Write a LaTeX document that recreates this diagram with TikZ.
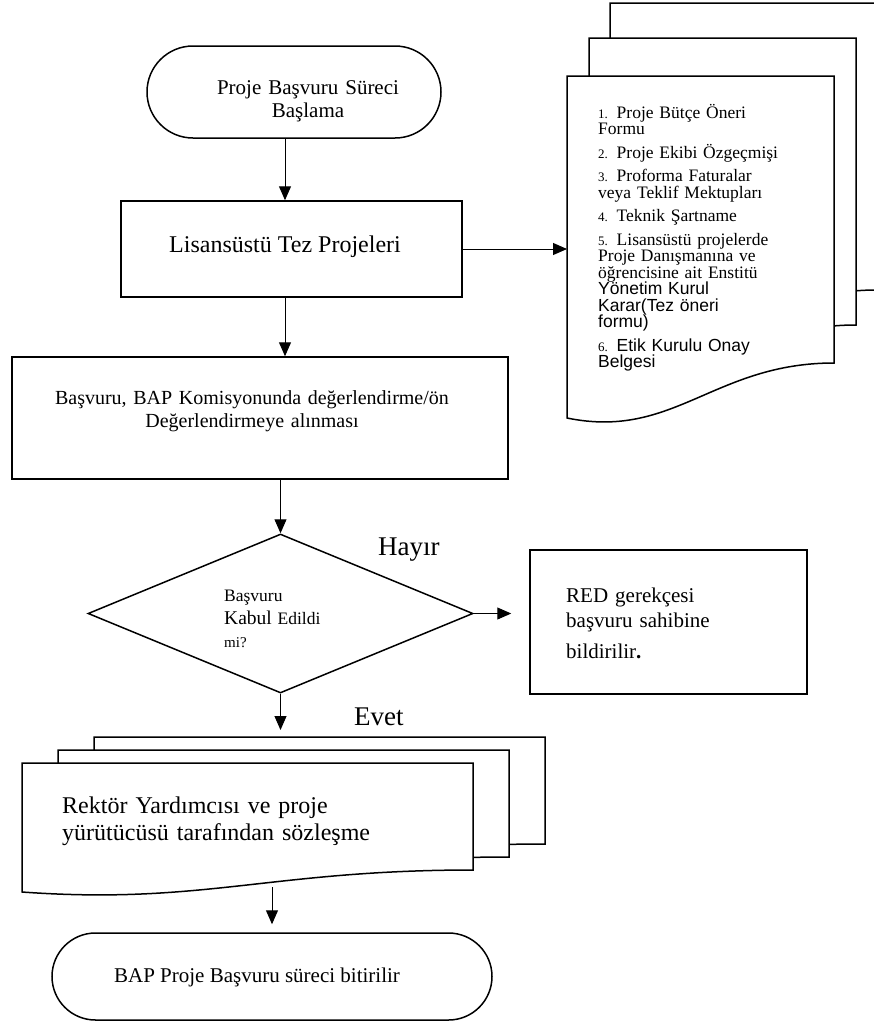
\documentclass[tikz,border=0pt]{standalone}
\usepackage{fontspec}
\setmainfont{Liberation Serif}
\newfontfamily\arialfont{Liberation Sans}
\usetikzlibrary{positioning,
        shapes.geometric,
        shapes.misc,
        arrows.meta}
\newcommand{\numfont}{\fontsize{13}{16}\selectfont}
% page with a wavy lower edge: name, left, top, right, bottom right, bottom left, dip
\newcommand{\wavepage}[7]{%
  \draw[page] (#2,#3) coordinate (#1) -- (#4,#3) -- (#4,#5)
    .. controls ({0.55*#4+0.45*#2},#5) and ({0.4*#4+0.6*#2},#7) .. (#2,#6) -- cycle;}
\tikzset{
  box/.style={draw, line width=1.5pt, inner sep=0pt},
  term/.style={box, rounded rectangle},
  page/.style={draw, fill=white, line width=1.5pt},
  flow/.style={line width=1pt, -{Triangle[length=14pt,width=12pt]}},
  txt/.style={inner sep=0pt}
}

\begin{document}
\begin{tikzpicture}[x=1pt,y=-1pt]
            \useasboundingbox (0,0) rectangle (874,1028);
            \clip (0,0) rectangle (874,1028);

            % documents to hand in
            \wavepage{docC}{610}{3}{877}{290}{345}{367}
            \wavepage{docB}{589}{38}{856}{325}{380}{402}
            \wavepage{docA}{567}{76}{834}{363}{418}{440}
            \node [txt,anchor=base west,text width=232pt,align=left,font=\fontsize{17.5}{16.5}\selectfont] (doclist) at (598,118)
                {{\numfont 1.} Proje Bütçe Öneri\\ Formu\\[7pt]
                 {\numfont 2.} Proje Ekibi Özgeçmişi\\[7pt]
                 {\numfont 3.} Proforma Faturalar\\ veya Teklif Mektupları\\[7pt]
                 {\numfont 4.} Teknik Şartname\\[7pt]
                 {\numfont 5.} Lisansüstü projelerde\\ Proje Danışmanına ve\\ öğrencisine ait Enstitü\\
                 {\arialfont Yönetim Kurul}\\ {\arialfont Karar(Tez öneri}\\ {\arialfont formu)}\\[7pt]
                 {\numfont 6.} {\arialfont Etik Kurulu Onay}\\ {\arialfont Belgesi}};

            % main flow
            \node [term,minimum width=294pt,minimum height=92pt] (start) at (294,92) {};
            \node [txt,anchor=base,text width=230pt,align=center,font=\fontsize{21}{23}\selectfont] (starttxt) at (308,94)
                {Proje Başvuru Süreci\\ Başlama};
            \node [box,minimum width=341pt,minimum height=96pt] (lisans) at (291.5,249) {};
            \node [txt,anchor=base,font=\fontsize{24}{27}\selectfont] (lisanstxt) at (285,252) {Lisansüstü Tez Projeleri};
            \node [box,minimum width=496pt,minimum height=122pt] (eval) at (260,418) {};
            \node [txt,anchor=base,text width=440pt,align=center,font=\fontsize{20}{23}\selectfont] (evaltxt) at (252,404)
                {Başvuru, BAP Komisyonunda değerlendirme/ön\\ Değerlendirmeye alınması};
            \node [box,diamond,minimum width=385pt,minimum height=159pt] (dec) at (280.5,613.5) {};
            \node [txt,anchor=base west,text width=130pt,align=left,font=\fontsize{17.5}{23}\selectfont] (dectxt) at (224,601)
                {Başvuru\\ {\fontsize{19.5}{23}\selectfont Kabul} Edildi\\ {\fontsize{15}{23}\selectfont mi?}};
            \node [txt,anchor=base west,font=\fontsize{27}{30}\selectfont] (no) at (378,555) {Hayır};
            \node [box,minimum width=277pt,minimum height=144pt] (red) at (668.5,622) {};
            \node [txt,anchor=base west,text width=240pt,align=left,font=\fontsize{21}{25}\selectfont] (redtxt) at (566,602)
                {RED gerekçesi\\ başvuru sahibine\\[6pt] bildirilir{\bfseries .}};
            \node [txt,anchor=base west,font=\fontsize{27}{30}\selectfont] (yes) at (354,725) {Evet};

            % contract
            \wavepage{signC}{94}{737}{545}{844}{866}{879}
            \wavepage{signB}{58}{750}{509}{857}{879}{892}
            \wavepage{signA}{22}{763}{473}{870}{892}{905}
            \node [txt,anchor=base west,text width=420pt,align=left,font=\fontsize{24}{27}\selectfont] (signtxt) at (62,813)
                {Rektör Yardımcısı ve proje\\ yürütücüsü tarafından sözleşme};
            \coordinate (signout) at (272,887);

            \node [term,minimum width=440pt,minimum height=87pt] (stop) at (272,976.5) {};
            \node [txt,anchor=base,font=\fontsize{21}{25}\selectfont] (stoptxt) at (257,982) {BAP Proje Başvuru süreci bitirilir};

            \coordinate (axis) at (285,0);
            \draw [flow] (start.south -| axis) -- (lisans.north -| axis);
            \draw [flow] (lisans.south -| axis) -- (eval.north -| axis);
            \draw [flow] (lisans.east) -- (lisans.east -| docA);
            \draw [flow] (eval.south -| dec.north) -- (dec.north);
            \draw [flow,shorten >=18pt] (dec.east) -- (dec.east -| red.west);
            \draw [flow,shorten >=7pt] (dec.south) -- (dec.south |- signC);
            \draw [flow,shorten >=8pt] (signout) -- (stop.north);
        \end{tikzpicture}
\end{document}
